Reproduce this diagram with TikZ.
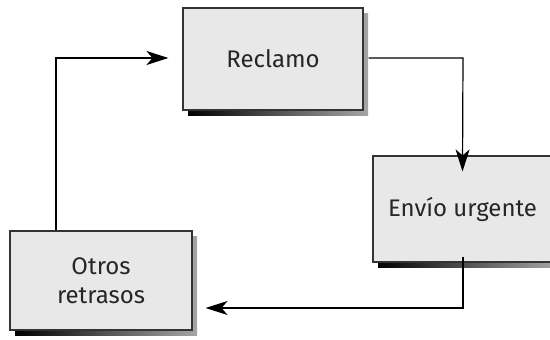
\documentclass[tikz,border=0pt]{standalone}
\usepackage{fontspec}
\setmainfont{Fira Sans}
\usetikzlibrary{arrows.meta}
\begin{document}
\begin{tikzpicture}[x=1pt,y=-1pt,
  box/.style={draw=black!80,line width=1.1pt,fill=black!9,align=center,inner sep=0pt,text=black!85,font=\fontsize{24}{29}\selectfont},
  conn/.style={line width=1.2pt,draw=black,-{Stealth[length=22pt,width=14pt,inset=6pt]}}]
\useasboundingbox (0,0) rectangle (550,340);
% shadows
\shade[left color=black,right color=black!35] (188,13) rectangle (368,115);
\shade[left color=black,right color=black!35] (378,161) rectangle (557,267);
\shade[left color=black,right color=black!35] (15,236) rectangle (197,335);
% boxes
\node[box,minimum width=180pt,minimum height=102pt] (rec) at (273,59) {Reclamo};
\node[box,minimum width=179pt,minimum height=106pt] (env) at (462.5,209) {Envío urgente};
\node[box,minimum width=182pt,minimum height=99pt] (otr) at (101,280.5) {Otros\\retrasos};
% connectors
\coordinate (a1) at (463,58);
\coordinate (a2) at (463,308);
\coordinate (a3) at (56,58);
\draw[conn] ([xshift=5pt]rec.east |- a1) -- (a1) -- ([yshift=-16pt]env.north);
\draw[conn] ([yshift=6pt]env.south -| a2) -- (a2) -- ([xshift=13pt]otr.east |- a2);
\draw[conn] (otr.north -| a3) -- (a3) -- ([xshift=-14pt]rec.west |- a3);
\end{tikzpicture}
\end{document}
